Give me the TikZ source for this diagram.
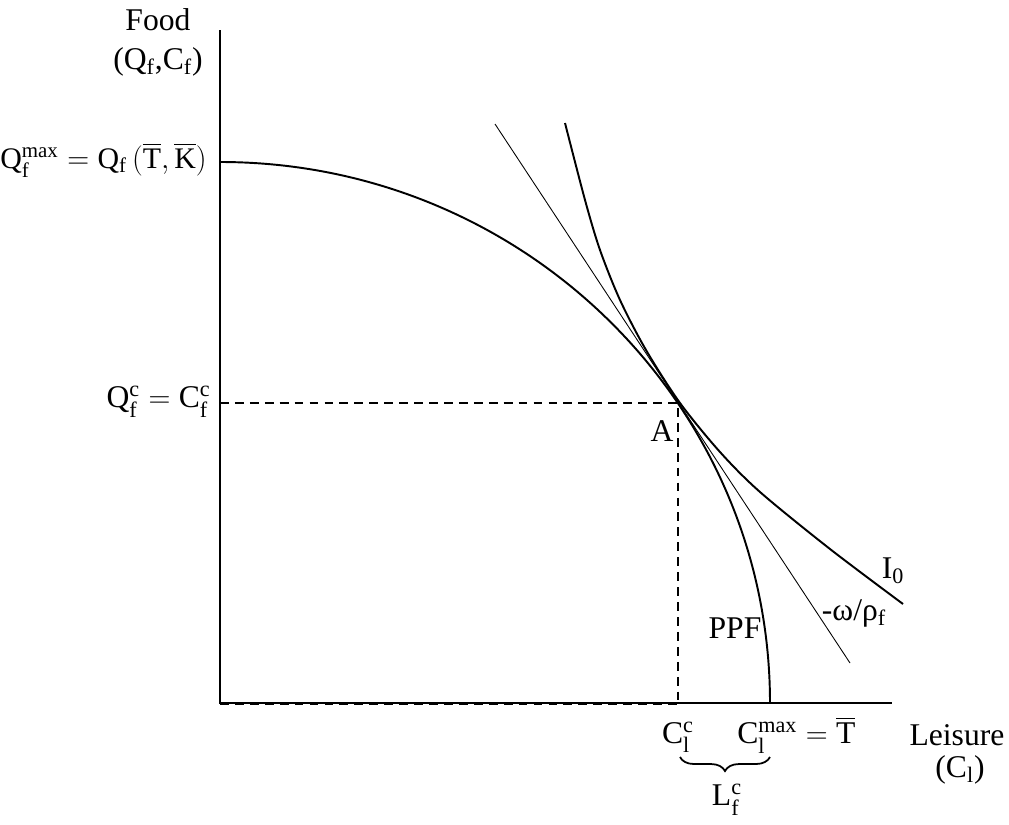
\documentclass[tikz,border=0pt]{standalone}
\usepackage{fontspec}
\usepackage{amsmath}
\setmainfont{Liberation Serif}
\setmathrm{Liberation Serif}
\usetikzlibrary{decorations.pathreplacing}
\newcommand{\rmq}[1]{\mathrm{#1}}
\begin{document}
\begin{tikzpicture}[x=0.02cm,y=-0.02cm,
  lbl/.style={inner sep=0pt,font=\fontsize{18}{21}\selectfont},
  axis/.style={line width=1.3pt},
  curve/.style={line width=1.1pt},
  thin line/.style={line width=0.5pt},
  guide/.style={line width=1pt,dash pattern=on 5pt off 3.5pt}]
\useasboundingbox (0,0) rectangle (1009,825);
% key points
\coordinate (O) at (220,703);
\coordinate (ytop) at (220,30);
\coordinate (xend) at (892,703);
\coordinate (ppfTop) at (220,162);
\coordinate (A) at (678,403);
\coordinate (Qc) at (220,403);
\coordinate (Cc) at (678,703);
\coordinate (tanTop) at (495,124);
\coordinate (tanBot) at (850,663);
% axes
\draw[axis] (ytop) -- (O) -- (xend);
% guides
\draw[guide] (Qc) -- (A) -- (Cc);
\draw[guide] ([yshift=-0.5pt]O) -- ([yshift=-0.5pt]Cc);
% PPF
\draw[curve] (ppfTop) arc[start angle=-90,end angle=0,x radius=550,y radius=541];
% tangent
\draw[thin line] (tanTop) -- (tanBot);
% indifference curve
\draw[curve] plot[smooth,tension=0.5] coordinates {(565,123) (585,200) (600,250) (620,300) (646,350) (680,403) (720,452) (760,492) (830,549) (903,604)};
% labels
\node[lbl] (food) at (158,20) {Food};
\node[lbl] (foodsym) at (158,62) {($\rmq{Q}_{\rmq{f}}$,$\rmq{C}_{\rmq{f}}$)};
\node[lbl,anchor=east,font=\fontsize{17}{20}\selectfont] (qmax) at (207,160) {$\rmq{Q}^{\rmq{max}}_{\rmq{f}} = \rmq{Q}_{\rmq{f}}\,(\overline{\rmq{T}},\overline{\rmq{K}})$};
\node[lbl,anchor=east] (qc) at (211,402) {$\rmq{Q}^{\rmq{c}}_{\rmq{f}} = \rmq{C}^{\rmq{c}}_{\rmq{f}}$};
\node[lbl] (alab) at (662,431) {A};
\node[lbl] (ppf) at (735,628) {PPF};
\node[lbl] (i0) at (893,571) {I$_{\rmq{0}}$};
\node[lbl] (wr) at (854,613) {-ω/ρ$_{\rmq{f}}$};
\node[lbl] (clc) at (678,737) {$\rmq{C}^{\rmq{c}}_{\rmq{l}}$};
\node[lbl,anchor=west] (clmax) at (737,735) {$\rmq{C}^{\rmq{max}}_{\rmq{l}} = \overline{\rmq{T}}$};
\node[lbl] (leis) at (957,735) {Leisure};
\node[lbl] (cl) at (960,770) {($\rmq{C}_{\rmq{l}}$)};
\coordinate (brL) at (680,757);
\coordinate (brR) at (770,757);
\draw[line width=1pt,decorate,decoration={brace,mirror,amplitude=8pt}] (brL) -- (brR);
\node[lbl] (lfc) at (727,800) {$\rmq{L}^{\rmq{c}}_{\rmq{f}}$};
\end{tikzpicture}
\end{document}
